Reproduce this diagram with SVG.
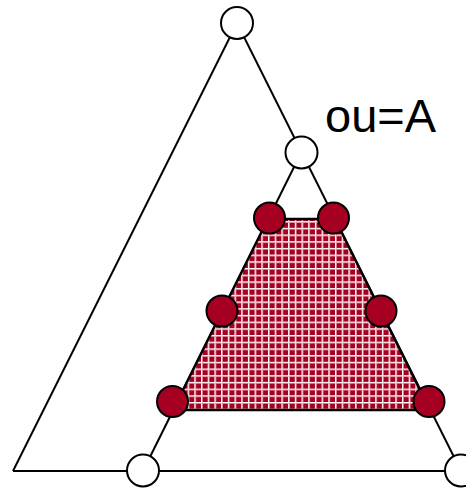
<svg xmlns="http://www.w3.org/2000/svg" width="466" height="488" viewBox="0 0 466 488">
  <style>
    .edge { stroke: #000; stroke-width: 2; fill: none; }
    .open { fill: #fff; stroke: #000; stroke-width: 2; }
    .red { fill: #A50021; stroke: #000; stroke-width: 2; }
    .label { font-family: "Liberation Sans", Arial, sans-serif; font-size: 47px; fill: #000; }
  </style>
  <defs>
    <pattern id="grid" width="6.7" height="6.7" patternUnits="userSpaceOnUse">
      <rect width="6.7" height="6.7" fill="#A50021"/>
      <rect x="0" y="0" width="1.3" height="6.7" fill="#fff"/>
      <rect x="0" y="0" width="6.7" height="1.3" fill="#fff"/>
      <rect x="1.3" y="0" width="0.6" height="6.7" fill="#e6a3b2"/>
      <rect x="0" y="1.3" width="6.7" height="0.6" fill="#e6a3b2"/>
    </pattern>
  </defs>
  <g id="connectors">
    <line class="edge" x1="237" y1="23" x2="13" y2="471"/>
    <line class="edge" x1="237" y1="23" x2="461" y2="471"/>
    <line class="edge" x1="301.5" y1="152" x2="143" y2="471"/>
    <line class="edge" x1="13" y1="471" x2="466" y2="471"/>
  </g>
  <g id="region">
    <polygon points="268,219 335,219 430,410 173,410" fill="url(#grid)" stroke="#000" stroke-width="2.5" stroke-linejoin="round"/>
  </g>
  <g id="node-top"><circle class="open" cx="237" cy="23" r="16"/></g>
  <g id="node-mid"><circle class="open" cx="301.5" cy="152.5" r="16"/></g>
  <g id="node-bl"><circle class="open" cx="143" cy="470.5" r="16"/></g>
  <g id="node-br"><circle class="open" cx="461" cy="470.5" r="16"/></g>
  <g id="node-r1"><circle class="red" cx="269.5" cy="218" r="15.5"/></g>
  <g id="node-r2"><circle class="red" cx="333.5" cy="218" r="15.5"/></g>
  <g id="node-r3"><circle class="red" cx="222" cy="311" r="15.5"/></g>
  <g id="node-r4"><circle class="red" cx="381" cy="311" r="15.5"/></g>
  <g id="node-r5"><circle class="red" cx="172.5" cy="401.5" r="15.5"/></g>
  <g id="node-r6"><circle class="red" cx="429" cy="401.5" r="15.5"/></g>
  <g id="label"><text class="label" x="325" y="132">ou=A</text></g>
</svg>
